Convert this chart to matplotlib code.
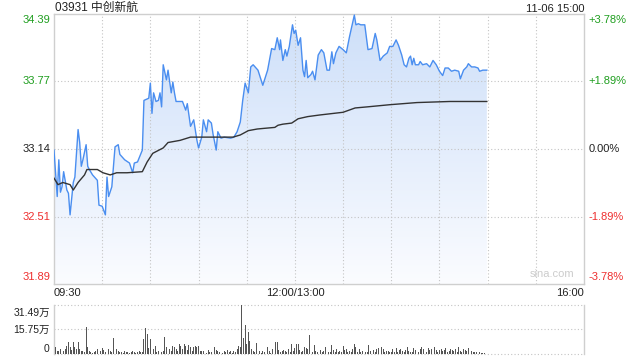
import numpy as np
import matplotlib
matplotlib.use("Agg")
import matplotlib.pyplot as plt
from matplotlib.colors import LinearSegmentedColormap

plt.rcParams['font.family'] = ['Liberation Sans', 'Noto Sans CJK SC', 'DejaVu Sans']

# ---- data ----
title = "03931 中创新航"
stamp = "11-06 15:00"
prev_close = 33.14
price_ticks = [31.89, 32.51, 33.14, 33.77, 34.39]
pct_ticks = ["-3.78%", "-1.89%", "0.00%", "+1.89%", "+3.78%"]
time_labels = ["09:30", "12:00/13:00", "16:00"]
time_label_pos = [0, 150, 330]

# minutes after 09:30 (lunch break removed) and price
price_min = [0, 2, 3, 4, 5, 6, 8, 9, 10, 12, 13, 15, 16, 17, 18, 20, 21, 22, 24, 27,
             28, 30, 32, 33, 34, 36, 38, 40, 41, 44, 47, 49, 50, 52, 55, 56, 59, 60, 61, 62,
             63.5, 65, 66, 67, 68, 70, 71, 73, 74, 75, 76, 80, 82, 83, 85, 87, 89, 90, 92, 93,
             95, 96, 98, 99, 101, 102, 104, 106, 110, 112, 114, 116, 117.5, 119, 121, 122.5, 124, 127, 130, 133,
             135.5, 137.5, 139, 140.5, 141, 142.5, 144, 145, 146.5, 148.5, 149.5, 150.5, 152, 153.5, 155, 156, 157, 158, 160, 161,
             162.5, 164.5, 166.5, 168, 170, 171.5, 173, 174, 175.5, 177.5, 180, 182, 184, 187, 188, 189.5, 191, 193.5, 195.5, 198,
             200, 201, 203, 205, 207.5, 209, 211, 213, 214.5, 216.5, 218, 219.5, 221, 222, 223, 224, 225, 227, 228, 229.5,
             232, 234, 236, 238, 240, 242, 243.5, 245.5, 247.5, 249.5, 252, 253, 255, 257, 258, 260, 262, 264, 265, 267, 269.5]
price_val = [33.13, 32.70, 33.04, 32.74, 32.79, 32.93, 32.76, 32.73, 32.53, 32.83, 32.88, 33.32, 33.20, 32.98, 33.04, 33.18, 32.98, 32.95, 32.90, 32.85,
             32.62, 32.61, 32.53, 32.88, 32.70, 32.79, 33.16, 33.18, 33.09, 33.04, 33.01, 32.92, 33.01, 33.02, 33.13, 33.59, 33.61, 33.75, 33.47, 33.66,
             33.58, 33.59, 33.66, 33.53, 33.92, 33.78, 33.87, 33.66, 33.76, 33.66, 33.58, 33.58, 33.50, 33.56, 33.35, 33.41, 33.22, 33.15, 33.25, 33.41,
             33.30, 33.41, 33.38, 33.28, 33.13, 33.30, 33.24, 33.25, 33.24, 33.25, 33.30, 33.39, 33.59, 33.75, 33.66, 33.90, 33.92, 33.87, 33.73, 33.87,
             34.07, 34.06, 34.17, 34.06, 34.15, 33.96, 34.06, 34.00, 34.09, 34.29, 34.21, 34.24, 34.10, 34.17, 33.87, 33.81, 33.96, 33.80, 33.83, 33.86,
             33.78, 34.01, 34.06, 34.03, 33.87, 33.87, 34.04, 33.93, 34.03, 34.09, 34.06, 34.03, 34.18, 34.38, 34.29, 34.30, 34.29, 34.29, 34.06, 34.07,
             34.21, 34.15, 33.96, 34.00, 34.03, 34.09, 34.09, 34.15, 34.10, 34.01, 33.92, 33.90, 33.98, 34.00, 33.92, 33.98, 33.92, 33.92, 33.95, 33.92,
             33.93, 33.90, 33.96, 33.92, 33.86, 33.82, 33.89, 33.89, 33.86, 33.87, 33.86, 33.79, 33.87, 33.90, 33.93, 33.90, 33.90, 33.89, 33.86, 33.87, 33.87]

# average price line
avg_min = [0, 2.5, 5.5, 10, 12, 15, 19, 20.5, 27, 30.5, 35, 39, 45.5, 55, 58, 61.5, 68, 71, 78.5, 85,
           111.5, 116, 121, 126.5, 130, 137.5, 139.5, 142.5, 148, 152, 158, 165.5, 180, 187.5, 195, 209, 226, 246.5, 269.5]
avg_val = [32.87, 32.81, 32.83, 32.81, 32.76, 32.83, 32.90, 32.95, 32.95, 32.92, 32.90, 32.92, 32.92, 32.93, 33.02, 33.10, 33.15, 33.20, 33.22, 33.25,
           33.25, 33.27, 33.31, 33.325, 33.33, 33.34, 33.36, 33.37, 33.38, 33.42, 33.44, 33.455, 33.48, 33.52, 33.53, 33.55, 33.57, 33.58, 33.58]

# volume per minute, in 万 shares
volume = [
    6.4, 4.3, 2.0, 1.7, 3.2, 2.0, 2.0, 3.2, 5.3, 7.5, 4.3, 2.5, 7.5, 4.3, 3.0, 7.5, 3.2, 2.0, 1.7, 1.0, 17.5, 4.3, 2.0, 1.0, 0.6, 1.0, 1.7, 3.2, 4.3, 2.0,
    3.8, 2.5, 1.0, 9.0, 3.2, 1.7, 1.0, 10.3, 4.3, 3.2, 2.0, 1.5, 1.2, 0.8, 1.7, 1.0, 1.3, 0.8, 1.5, 2.1, 1.0, 0.8, 1.3, 1.7, 1.0, 1.5, 9.6, 17.0, 13.0, 4.0,
    9.6, 7.5, 3.2, 5.0, 1.5, 2.1, 4.3, 1.5, 2.0, 11.0, 4.3, 10.0, 3.2, 2.1, 5.3, 4.3, 3.0, 2.0, 6.4, 5.3, 3.5, 6.4, 5.3, 2.5, 6.0, 4.7, 2.0, 4.3, 5.3, 4.7,
    5.3, 2.0, 1.7, 1.7, 1.0, 0.8, 2.5, 1.3, 1.0, 0.8, 4.3, 2.5, 1.7, 1.0, 1.7, 0.8, 2.1, 1.0, 2.5, 1.2, 2.1, 0.8, 1.7, 1.5, 3.2, 5.3, 4.3, 31.49, 10.0, 18.6,
    6.4, 14.3, 8.5, 3.2, 2.1, 1.0, 7.0, 2.5, 1.7, 0.8, 2.1, 1.0, 4.3, 4.7, 1.7, 0.8, 3.2, 1.5, 7.5, 8.0, 2.5, 1.0, 2.1, 2.5, 1.7, 1.0, 3.2, 1.5, 6.4, 1.7,
    3.8, 6.4, 6.4, 2.5, 1.0, 2.1, 4.7, 3.8, 3.2, 12.2, 2.5, 1.0, 5.8, 2.1, 1.0, 5.3, 2.5, 1.0, 2.1, 4.3, 1.7, 1.0, 1.2, 5.8, 2.5, 1.0, 3.2, 1.0, 2.1, 1.5,
    5.3, 2.5, 3.2, 1.0, 2.1, 1.0, 3.2, 6.4, 4.3, 1.0, 3.2, 1.0, 2.1, 2.5, 1.0, 1.3, 5.8, 2.1, 1.0, 2.5, 1.5, 3.2, 3.8, 1.0, 4.3, 3.2, 1.0, 2.1, 2.1, 1.0,
    1.0, 3.2, 1.5, 3.8, 1.0, 2.5, 3.2, 1.7, 1.0, 2.5, 4.3, 2.1, 1.0, 1.3, 3.8, 2.5, 4.3, 1.0, 3.2, 4.7, 3.2, 2.1, 1.0, 3.8, 2.5, 3.2, 1.7, 4.3, 2.5, 1.0,
    2.5, 3.2, 1.7, 2.5, 3.8, 1.0, 2.1, 3.2, 2.5, 1.7, 3.2, 1.0, 4.3, 2.1, 1.0, 3.2, 2.5, 1.7, 3.8, 1.0, 2.1, 1.5, 1.0, 1.3, 0.8, 1.0, 0.6, 0.8, 0.6, 0.5,
]
vol_ticks = [0, 15.75, 31.49]
vol_labels = ["0", "15.75万", "31.49万"]

green = '#1f9e1f'
red = '#ee2f2f'
dark = '#222222'
blue = '#4a8ef0'
border = '#cfcfcf'
grid = '#c4c4c4'

fig = plt.figure(figsize=(6.4, 3.6), dpi=100)
ax = fig.add_axes([54 / 640, 1 - 284 / 360, 530 / 640, 270 / 360])
axv = fig.add_axes([54 / 640, 1 - 354 / 360, 530 / 640, 49 / 360])

# ---- price panel ----
ymin, ymax = price_ticks[0], price_ticks[-1]
poly = ax.fill_between(price_min, price_val, ymin, color='none', lw=0)
cmap = LinearSegmentedColormap.from_list('fade', ['#fbfcff', '#cddff9'])
grad = np.linspace(0, 1, 256).reshape(-1, 1)
img = ax.imshow(grad, extent=[0, price_min[-1], ymin, ymax], origin='lower',
                aspect='auto', cmap=cmap, zorder=1)
img.set_clip_path(poly.get_paths()[0], transform=ax.transData)

ax.plot(price_min, price_val, color=blue, lw=1.0, zorder=3)
ax.plot(avg_min, avg_val, color='#333333', lw=1.0, zorder=3)

ax.set_xlim(0, 330)
ax.set_ylim(ymin, ymax)
ax.set_xticks([])
ax.set_yticks([])
for x in range(30, 330, 30):
    ax.axvline(x, color=grid, lw=0.8, ls=(0, (1, 2)), zorder=2)
for y in price_ticks[1:-1]:
    ax.axhline(y, color=grid, lw=0.8, ls=(0, (1, 2)), zorder=2)
for s in ax.spines.values():
    s.set_color(border)
    s.set_linewidth(1)

colors = [red, red, dark, green, green]
offsets = [5, 0, 0, 0, -4.5]
for val, pct, c, dy in zip(price_ticks, pct_ticks, colors, offsets):
    ax.annotate(f"{val:.2f}", xy=(0, val), xycoords=('axes fraction', 'data'),
                xytext=(-2.5, dy), textcoords='offset points',
                ha='right', va='center', color=c, fontsize=8)
    ax.annotate(pct, xy=(1, val), xycoords=('axes fraction', 'data'),
                xytext=(3.5, dy), textcoords='offset points',
                ha='left', va='center', color=c, fontsize=8)

has = ['left', 'center', 'right']
for lab, pos, ha in zip(time_labels, time_label_pos, has):
    ax.annotate(lab, xy=(pos, 0), xycoords=('data', 'axes fraction'),
                xytext=(0, -6.5), textcoords='offset points',
                ha=ha, va='center', color=dark, fontsize=8)

ax.text(0.002, 1.0, title, transform=ax.transAxes, ha='left', va='bottom',
        fontsize=8.5, color=dark)
ax.text(1.0, 1.0, stamp, transform=ax.transAxes, ha='right', va='bottom',
        fontsize=8, color=dark)
ax.text(0.94, 0.02, "sina.com", transform=ax.transAxes, ha='center', va='bottom',
        fontsize=8, color='#cccccc')

# ---- volume panel ----
minutes = np.arange(len(volume))
axv.bar(minutes, volume, width=0.55, color='#555555', lw=0, zorder=3)
axv.set_xlim(0, 330)
axv.set_ylim(0, vol_ticks[-1])
axv.set_xticks([])
axv.set_yticks([])
for y in vol_ticks[1:]:
    axv.axhline(y, color=grid, lw=0.8, ls=(0, (1, 2)), zorder=2, clip_on=False)
axv.axhline(0, color=grid, lw=0.8, ls=(0, (1, 2)), zorder=2, clip_on=False)
for side in ['top', 'bottom']:
    axv.spines[side].set_visible(False)
for side in ['left', 'right']:
    axv.spines[side].set_color(border)
    axv.spines[side].set_linewidth(1)

vol_off = [3.5, 0, -6]
for val, lab, dy in zip(vol_ticks, vol_labels, vol_off):
    axv.annotate(lab, xy=(0, val), xycoords=('axes fraction', 'data'),
                 xytext=(-3, dy), textcoords='offset points',
                 ha='right', va='center', color=dark, fontsize=7.5)

fig.savefig("out.png", dpi=100)
